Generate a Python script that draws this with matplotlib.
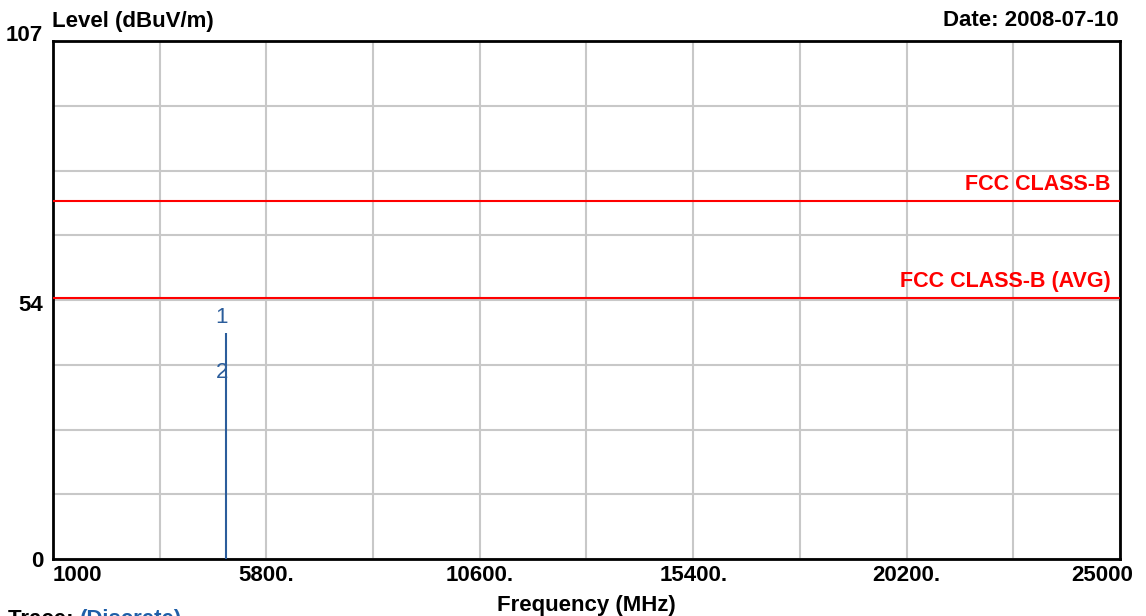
import numpy as np
import matplotlib.pyplot as plt
import matplotlib.transforms as mtransforms

plt.rcParams['font.family'] = ['Liberation Sans', 'DejaVu Sans']
plt.rcParams['font.weight'] = 'bold'

# discrete trace / marker data
marker_freq = [4890, 4890]
marker_level = [46.7, 38.6]
marker_ids = ['1', '2']

limit_names = ['FCC CLASS-B', 'FCC CLASS-B (AVG)']
limit_levels = [74, 54]

x_ticks = [1000, 5800, 10600, 15400, 20200, 25000]
x_tick_labels = ['1000', '5800.', '10600.', '15400.', '20200.', '25000']
y_ticks = [0, 54, 107]

trace_color = '#2b5d9b'
grid_color = '#c8c8c8'
fs = 16

fig = plt.figure(figsize=(11.46, 6.16), dpi=100)
ax = fig.add_axes([53 / 1146, 57 / 616, 1067 / 1146, 518 / 616])

ax.set_xlim(1000, 25000)
ax.set_ylim(0, 107)


def px(dx, dy):
    return mtransforms.ScaledTranslation(dx / 100, dy / 100, fig.dpi_scale_trans)


# grid: 10 columns, 8 rows
ax.xaxis.remove_overlapping_locs = False
ax.yaxis.remove_overlapping_locs = False
ax.set_xticks(np.linspace(1000, 25000, 11), minor=True)
ax.set_yticks(np.linspace(0, 107, 9), minor=True)
ax.grid(which='minor', color=grid_color, linewidth=1.5)
ax.tick_params(which='minor', length=0)

ax.set_xticks(x_ticks)
ax.set_xticklabels(x_tick_labels, fontsize=fs, fontweight='bold')
ax.set_yticks(y_ticks)
ax.set_yticklabels([str(v) for v in y_ticks], fontsize=fs, fontweight='bold')
ax.tick_params(which='major', length=0, pad=4)
ax.tick_params(axis='y', pad=7)

xlabels = ax.get_xticklabels()
xlabels[0].set_horizontalalignment('left')
xlabels[-1].set_horizontalalignment('right')
xlabels[-1].set_transform(xlabels[-1].get_transform() + px(13, 0))

ylabels = ax.get_yticklabels()
ylabels[1].set_transform(ylabels[1].get_transform() + px(0, -5))
ylabels[2].set_transform(ylabels[2].get_transform() + px(0, 8))

for sp in ax.spines.values():
    sp.set_linewidth(2)
    sp.set_color('black')

# limit lines
for name, lvl in zip(limit_names, limit_levels):
    ax.axhline(lvl, color='#ff0000', linewidth=1.5, zorder=3)
    ax.annotate(name, xy=(0.9915, lvl), xycoords=('axes fraction', 'data'),
                xytext=(0, 4), textcoords='offset points',
                ha='right', va='bottom', color='#ff0000', fontsize=fs - 0.5, fontweight='bold')

# discrete trace
ax.vlines(marker_freq[0], 0, marker_level[0], color=trace_color, linewidth=1.5, zorder=4)

# marker labels
ax.annotate(marker_ids[0], xy=(marker_freq[0], marker_level[0]), xytext=(-3, 11),
            textcoords='offset points', ha='center', va='center',
            color=trace_color, fontsize=fs, fontweight='normal')
ax.annotate(marker_ids[1], xy=(marker_freq[1], marker_level[1]), xytext=(-3, 0),
            textcoords='offset points', ha='center', va='center',
            color=trace_color, fontsize=fs, fontweight='normal', zorder=5)

# header texts
fig.text(52 / 1146, 1 - 21 / 616, 'Level (dBuV/m)', ha='left', va='center',
         fontsize=fs, fontweight='bold')
fig.text(1119 / 1146, 1 - 21 / 616, 'Date: 2008-07-10', ha='right', va='center',
         fontsize=fs, fontweight='bold')
fig.text(586 / 1146, 1 - 605 / 616, 'Frequency (MHz)', ha='center', va='center',
         fontsize=fs, fontweight='bold')

# trace legend at the bottom, cut off by the image edge as in the original
t = fig.text(8 / 1146, -9 / 616, 'Trace: ', ha='left', va='baseline',
             fontsize=fs, fontweight='bold')
fig.canvas.draw()
bb = t.get_window_extent()
fig.text(bb.x1 / 1146, -9 / 616, '(Discrete)', ha='left', va='baseline',
         fontsize=fs, fontweight='bold', color='#1f5fa8')

fig.savefig('out.png', dpi=100)
